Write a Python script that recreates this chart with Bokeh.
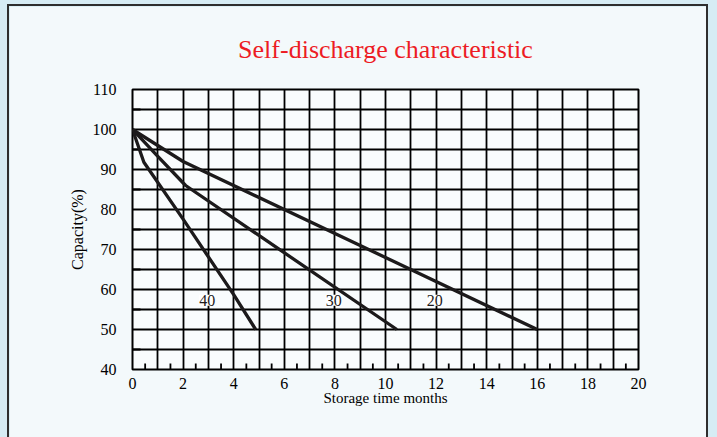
from bokeh.plotting import figure
from bokeh.models import Range1d, SingleIntervalTicker, Label
from bokeh.embed import file_html
from bokeh.resources import INLINE

# ---- data ----
# temperature 20 °C curve
x20 = [0, 1, 2, 16]
y20 = [100, 96, 92, 50]
# temperature 30 °C curve
x30 = [0, 1, 2.1, 10.45]
y30 = [100, 93.3, 86, 50]
# temperature 40 °C curve
x40 = [0, 0.45, 2, 4, 4.87]
y40 = [100, 91.8, 77.6, 58.7, 50]

curve_labels = ["40", "30", "20"]
curve_label_x = [2.95, 7.95, 11.95]
curve_label_y = [57.3, 57.3, 57.3]

x_minor = [0.5, 1.5, 2.5, 3.5, 4.5, 5.5, 6.5, 7.5, 8.5, 9.5,
           10.5, 11.5, 12.5, 13.5, 14.5, 15.5, 16.5, 17.5, 18.5, 19.5]
y_minor = [45, 55, 65, 75, 85, 95, 105]

title_text = "Self-discharge characteristic"
x_label = "Storage time months"
y_label = "Capacity(%)"

SERIF = "Liberation Serif"
INK = "#1c1a1b"

X0, X1, Y0, Y1 = 0, 20, 40, 110
FRAME_W, FRAME_H = 506, 280

p = figure(width=701, height=440, output_backend="svg", toolbar_location=None,
           x_range=Range1d(X0, X1), y_range=Range1d(Y0, Y1),
           min_border_left=123, min_border_right=72,
           min_border_top=83, min_border_bottom=77,
           styles={"margin-left": "7px", "margin-top": "4px",
                   "border": "2px solid #2e2e2e"})

p.border_fill_color = "#f3f9fb"
p.background_fill_color = "#f9fcfd"
p.outline_line_color = "black"
p.outline_line_width = 2

# title
p.title.text = title_text
p.title.align = "center"
p.title.vertical_align = "top"
p.title.text_font = SERIF
p.title.text_font_size = "26px"
p.title.text_font_style = "normal"
p.title.text_color = "#ed1c24"
p.title.standoff = 47

# grid
p.xgrid.ticker = SingleIntervalTicker(interval=1)
p.ygrid.ticker = SingleIntervalTicker(interval=5)
for g in (p.xgrid, p.ygrid):
    g.grid_line_color = "black"
    g.grid_line_width = 1.8
    g.grid_line_alpha = 1.0

# axes
p.xaxis.ticker = SingleIntervalTicker(interval=2)
p.yaxis.ticker = SingleIntervalTicker(interval=10)
for ax in (p.xaxis, p.yaxis):
    ax.axis_line_color = None
    ax.major_tick_line_color = None
    ax.minor_tick_line_color = None
    ax.major_label_text_font = SERIF
    ax.major_label_text_font_size = "16px"
    ax.major_label_text_color = "black"
    ax.axis_label_text_font = SERIF
    ax.axis_label_text_font_style = "normal"
    ax.axis_label_text_color = "black"
p.xaxis.axis_label = x_label
p.yaxis.axis_label = y_label
p.xaxis.axis_label_text_font_size = "15px"
p.yaxis.axis_label_text_font_size = "16px"
p.xaxis.major_label_standoff = 2
p.yaxis.major_label_standoff = 10
p.xaxis.axis_label_standoff = -2
p.yaxis.axis_label_standoff = 4

# inward minor ticks (6 px up from the bottom edge, 8 px right of the left edge)
tick_dy = 6 * (Y1 - Y0) / FRAME_H
tick_dx = 8 * (X1 - X0) / FRAME_W
p.segment(x0=x_minor, y0=[Y0] * len(x_minor), x1=x_minor, y1=[Y0 + tick_dy] * len(x_minor),
          line_color="black", line_width=1.8)
p.segment(x0=[X0] * len(y_minor), y0=y_minor, x1=[X0 + tick_dx] * len(y_minor), y1=y_minor,
          line_color="black", line_width=1.8)

# curves
for xs, ys in ((x20, y20), (x30, y30), (x40, y40)):
    p.line(xs, ys, line_color=INK, line_width=3.3, line_join="round")

# curve labels with white boxes hiding the grid behind them
for t, lx, ly in zip(curve_labels, curve_label_x, curve_label_y):
    p.add_layout(Label(x=lx, y=ly, text=t, text_align="center", text_baseline="middle",
                       text_font=SERIF, text_font_size="16px", text_color=INK,
                       background_fill_color="white", background_fill_alpha=1.0))

html = file_html(p, INLINE)
html = html.replace("<html", '<html style="background:#d6ecf4"', 1)
open("out.html", "w").write(html)
